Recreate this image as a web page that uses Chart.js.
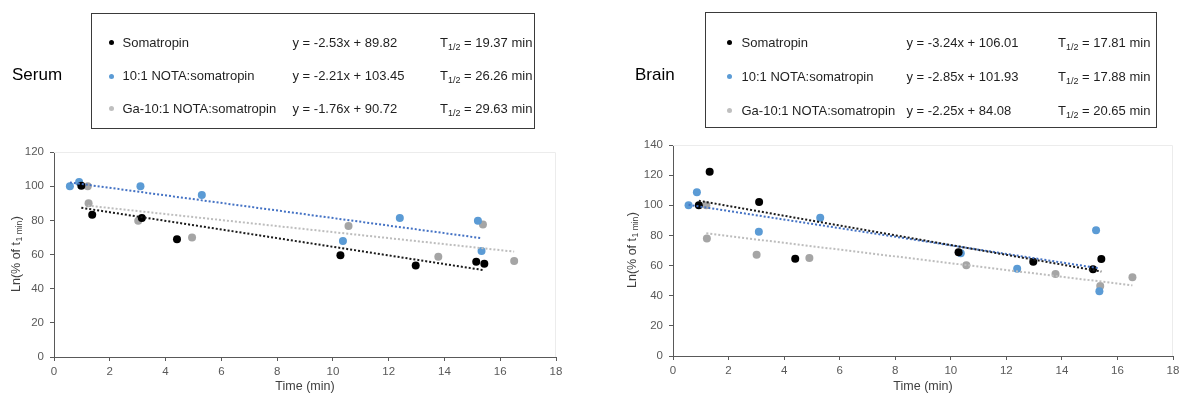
<!DOCTYPE html>
<html><head><meta charset="utf-8">
<script src="https://cdn.jsdelivr.net/npm/chart.js@4.4.0/dist/chart.umd.min.js"></script>
<style>
html,body{margin:0;padding:0;background:#fff;}
body{width:1180px;height:394px;position:relative;overflow:hidden;font-family:Arial,"Liberation Sans",sans-serif;}
.panel{position:absolute;top:0;width:590px;height:394px;}
.ptitle{position:absolute;font-size:17px;color:#000;line-height:20px;}
.legend{position:absolute;border:1.5px solid #3a3a3a;box-sizing:border-box;background:#fff;}
.txt{position:absolute;font-size:13px;color:#1f1f1f;white-space:nowrap;line-height:16px;}
.dot{position:absolute;width:5px;height:5px;border-radius:50%;}
.txt sub{font-size:9px;vertical-align:-3px;line-height:0;}
</style>
</head><body>
<div class="panel" style="left:0"><canvas id="c1" width="590" height="394"></canvas></div>
<div class="panel" style="left:590px"><canvas id="c2" width="590" height="394"></canvas></div>
<div class="ptitle" style="left:12px;top:65px">Serum</div>
<div class="ptitle" style="left:635px;top:65px">Brain</div>
<div class="legend" id="leg1" style="left:91px;top:13px;width:444px;height:116px"></div>
<div class="legend" id="leg2" style="left:705px;top:12px;width:452px;height:116px"></div>
<div id="legtext"></div>
<script>
// ---- data ----
const seriesNames = ['Somatropin', '10:1 NOTA:somatropin', 'Ga-10:1 NOTA:somatropin'];
const xTicksMax = 18;
const serumYMax = 120;
const brainYMax = 140;

// Serum
const serumSomaX = [0.98, 1.37, 3.15, 4.41, 10.27, 12.97, 15.14, 15.43];
const serumSomaY = [100.2, 83.2, 81.4, 69.0, 59.5, 53.6, 55.8, 54.6];
const serumNotaX = [0.57, 0.90, 3.10, 5.30, 10.36, 12.40, 15.20, 15.33];
const serumNotaY = [100.0, 102.4, 100.0, 94.9, 67.9, 81.4, 79.7, 62.0];
const serumGaX = [1.21, 1.24, 3.02, 4.95, 10.56, 13.78, 15.38, 16.50];
const serumGaY = [100.0, 90.0, 79.7, 69.9, 76.7, 58.7, 77.5, 56.2];
const serumSlopes = [-2.53, -2.21, -1.76];
const serumIntercepts = [89.82, 103.45, 90.72];
const serumHalfLives = ['19.37', '26.26', '29.63'];

// Brain
const brainSomaX = [0.93, 1.32, 3.10, 4.40, 10.28, 12.97, 15.12, 15.42];
const brainSomaY = [100.0, 122.3, 102.2, 64.6, 68.8, 62.6, 57.5, 64.4];
const brainNotaX = [0.56, 0.86, 3.09, 5.30, 10.36, 12.39, 15.23, 15.35];
const brainNotaY = [100.0, 108.6, 82.5, 91.8, 68.1, 57.9, 83.4, 42.9];
const brainGaX = [1.20, 1.22, 3.01, 4.91, 10.56, 13.77, 15.38, 16.54];
const brainGaY = [100.0, 77.9, 67.2, 65.0, 60.2, 54.4, 46.4, 52.2];
const brainSlopes = [-3.24, -2.85, -2.25];
const brainIntercepts = [106.01, 101.93, 84.08];
const brainHalfLives = ['17.81', '17.88', '20.65'];

// ---- styles ----
const FONT = 'Arial, "Liberation Sans", sans-serif';
const pointColors = ['#000000', '#5B9BD5', '#A5A5A5'];
const lineColors = ['#1a1a1a', '#4472C4', '#BDBDBD'];
const legendDotColors = ['#000000', '#5B9BD5', '#BFBFBF'];

function pts(xs, ys){ return xs.map((x,i)=>({x:x, y:ys[i]})); }
function trend(xs, slope, intercept){
  const a = Math.min(...xs), b = Math.max(...xs);
  return [{x:a, y:slope*a+intercept}, {x:b, y:slope*b+intercept}];
}

const frame = {
  id:'frame',
  beforeDatasetsDraw(chart){
    const {ctx, chartArea:a} = chart;
    ctx.save(); ctx.strokeStyle='#ececec'; ctx.lineWidth=1;
    ctx.beginPath(); ctx.moveTo(a.left, a.top+0.5); ctx.lineTo(a.right-0.5, a.top+0.5); ctx.lineTo(a.right-0.5, a.bottom); ctx.stroke();
    ctx.restore();
  }
};
const yTitle = {
  id:'ytitle',
  afterDraw(chart, args, o){
    const ctx = chart.ctx;
    const y = (chart.chartArea.top + chart.chartArea.bottom)/2 + (o.dy||0);
    const big = '12.5px ' + FONT, small = '8.5px ' + FONT;
    ctx.save(); ctx.translate(o.x, y); ctx.rotate(-Math.PI/2);
    ctx.fillStyle = '#404040'; ctx.textBaseline='middle'; ctx.textAlign='left';
    ctx.font = big; const w1 = ctx.measureText('Ln(% of t').width; const w3 = ctx.measureText(')').width;
    ctx.font = small; const w2 = ctx.measureText('1 min').width;
    let cx = -(w1+w2+w3)/2;
    ctx.font = big; ctx.fillText('Ln(% of t', cx, 0); cx += w1;
    ctx.font = small; ctx.fillText('1 min', cx+0.5, 3); cx += w2 + 1;
    ctx.font = big; ctx.fillText(')', cx, 0);
    ctx.restore();
  }
};

function makeChart(id, groups, slopes, intercepts, yMax, axisW, padTop, padRight, xH, yTitleX){
  const datasets = [];
  groups.forEach((g,i)=>{
    datasets.push({type:'line', data: trend(g[0], slopes[i], intercepts[i]), borderColor: lineColors[i],
      borderWidth: 2, borderDash:[2,2], pointRadius:0, showLine:true, fill:false, order:0});
  });
  groups.forEach((g,i)=>{
    datasets.push({type:'scatter', data: pts(g[0], g[1]), backgroundColor: pointColors[i], borderColor: pointColors[i],
      pointRadius:4, borderWidth:0, order:1});
  });
  const gridCfg = {drawOnChartArea:false, drawTicks:true, tickLength:4, color:'#595959', lineWidth:1};
  return new Chart(document.getElementById(id), {
    type:'scatter',
    data:{datasets},
    plugins:[frame, yTitle],
    options:{
      responsive:false, animation:false, devicePixelRatio:1,
      layout:{padding:{top:padTop, right:padRight, left:0, bottom:0}},
      plugins:{legend:{display:false}, tooltip:{enabled:false}, ytitle:{x:yTitleX}},
      scales:{
        x:{type:'linear', position:'bottom', min:0, max:xTicksMax,
          ticks:{stepSize:2, color:'#595959', font:{size:11.5, family:FONT}, padding:4, maxRotation:0, autoSkip:false},
          grid:gridCfg, border:{display:true, color:'#595959', width:1},
          title:{display:true, text:'Time (min)', color:'#404040', font:{size:12.5, family:FONT}, padding:{top:0,bottom:0}},
          afterFit(s){ s.height = xH; s.paddingLeft = 0; s.paddingRight = 0; }
        },
        y:{type:'linear', min:0, max:yMax,
          ticks:{stepSize:20, color:'#595959', font:{size:11.5, family:FONT}, padding:6},
          grid:gridCfg, border:{display:true, color:'#595959', width:1},
          afterFit(s){ s.width = axisW; s.paddingTop = 0; s.paddingBottom = 0; }
        }
      }
    }
  });
}

makeChart('c1', [[serumSomaX, serumSomaY],[serumNotaX, serumNotaY],[serumGaX, serumGaY]],
  serumSlopes, serumIntercepts, serumYMax, 54, 152, 34, 37, 17);
makeChart('c2', [[brainSomaX, brainSomaY],[brainNotaX, brainNotaY],[brainGaX, brainGaY]],
  brainSlopes, brainIntercepts, brainYMax, 83, 145, 7, 38, 43);

// ---- legends ----
function buildLegend(cols, rowsY, slopes, intercepts, halves){
  const host = document.getElementById('legtext');
  seriesNames.forEach((name,i)=>{
    const cy = rowsY[i];
    const d = document.createElement('div'); d.className='dot';
    d.style.left = (cols[0]-2.5)+'px'; d.style.top = (cy-2.5)+'px'; d.style.background = legendDotColors[i];
    host.appendChild(d);
    const t1 = document.createElement('div'); t1.className='txt';
    t1.style.left = cols[1]+'px'; t1.style.top = (cy-8)+'px'; t1.textContent = name; host.appendChild(t1);
    const t2 = document.createElement('div'); t2.className='txt';
    t2.style.left = cols[2]+'px'; t2.style.top = (cy-8)+'px';
    t2.textContent = 'y = ' + slopes[i].toFixed(2) + 'x + ' + intercepts[i].toFixed(2); host.appendChild(t2);
    const t3 = document.createElement('div'); t3.className='txt';
    t3.style.left = cols[3]+'px'; t3.style.top = (cy-8)+'px';
    t3.innerHTML = 'T<sub>1/2</sub> = ' + halves[i] + ' min'; host.appendChild(t3);
  });
}
buildLegend([111.5, 122.5, 292.5, 440], [42.5, 76, 108.5], serumSlopes, serumIntercepts, serumHalfLives);
buildLegend([729, 741.5, 906.5, 1058], [42.5, 76.5, 110.5], brainSlopes, brainIntercepts, brainHalfLives);
</script>
</body></html>
